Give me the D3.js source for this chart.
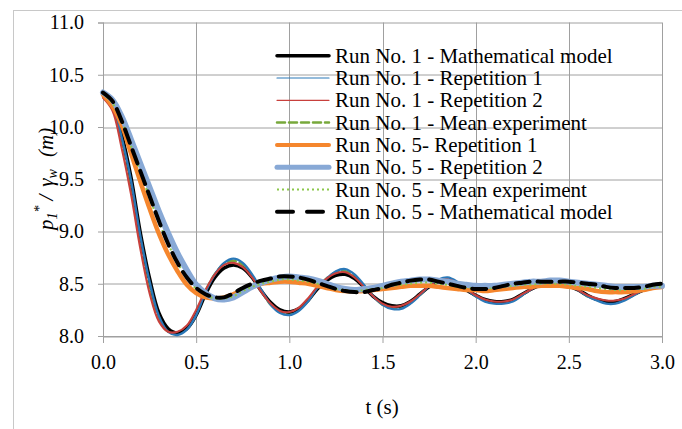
<!DOCTYPE html>
<html>
<head>
<meta charset="utf-8">
<script src="https://cdn.jsdelivr.net/npm/d3@7"></script>
<style>
  body { margin: 0; background: #fff; }
</style>
</head>
<body>
<div id="chart"></div>
<script>
// time stamps (s)
const times = [0.00,0.05,0.10,0.15,0.20,0.25,0.30,0.35,0.40,0.45,0.50,0.55,0.60,0.65,0.70,0.75,0.80,0.85,0.90,0.95,
  1.00,1.05,1.10,1.15,1.20,1.25,1.30,1.35,1.40,1.45,1.50,1.55,1.60,1.65,1.70,1.75,1.80,1.85,1.90,1.95,
  2.00,2.05,2.10,2.15,2.20,2.25,2.30,2.35,2.40,2.45,2.50,2.55,2.60,2.65,2.70,2.75,2.80,2.85,2.90,2.95,3.00];

// run 1
const run1Model = [10.33,10.24,9.93,9.52,8.99,8.55,8.22,8.07,8.03,8.07,8.20,8.40,8.56,8.65,8.68,8.65,8.56,8.43,8.32,8.25,
  8.23,8.26,8.34,8.45,8.53,8.58,8.59,8.55,8.47,8.38,8.32,8.29,8.29,8.33,8.40,8.47,8.52,8.53,8.50,8.44,
  8.39,8.35,8.33,8.33,8.35,8.40,8.45,8.49,8.51,8.51,8.48,8.44,8.39,8.35,8.33,8.33,8.36,8.40,8.44,8.47,8.49];
const run1Rep1 = [10.32,10.22,9.90,9.49,8.96,8.52,8.19,8.04,8.01,8.06,8.20,8.42,8.59,8.70,8.74,8.70,8.59,8.44,8.30,8.22,
  8.20,8.24,8.33,8.46,8.55,8.62,8.64,8.59,8.49,8.38,8.30,8.26,8.26,8.31,8.39,8.48,8.54,8.56,8.52,8.45,
  8.38,8.33,8.31,8.31,8.33,8.39,8.45,8.50,8.53,8.53,8.49,8.44,8.38,8.34,8.31,8.31,8.34,8.39,8.44,8.47,8.49];
const run1Rep2 = [10.28,10.16,9.80,9.36,8.84,8.41,8.14,8.04,8.04,8.10,8.25,8.44,8.59,8.68,8.70,8.66,8.56,8.42,8.31,8.24,
  8.23,8.27,8.36,8.47,8.55,8.60,8.61,8.56,8.47,8.38,8.31,8.28,8.29,8.33,8.40,8.48,8.53,8.54,8.51,8.45,
  8.39,8.35,8.33,8.33,8.35,8.40,8.45,8.49,8.51,8.51,8.48,8.44,8.39,8.36,8.34,8.34,8.36,8.40,8.44,8.47,8.48];
const run1Mean = [10.30,10.19,9.85,9.42,8.90,8.46,8.16,8.04,8.02,8.08,8.22,8.43,8.59,8.69,8.72,8.68,8.57,8.43,8.30,8.23,
  8.21,8.25,8.34,8.46,8.55,8.61,8.62,8.57,8.48,8.38,8.30,8.27,8.27,8.32,8.39,8.48,8.53,8.55,8.51,8.45,
  8.38,8.34,8.32,8.32,8.34,8.39,8.45,8.49,8.52,8.52,8.48,8.44,8.38,8.35,8.32,8.32,8.35,8.39,8.44,8.47,8.48];

// run 5
const run5Rep1 = [10.31,10.20,10.02,9.75,9.48,9.22,8.98,8.78,8.62,8.49,8.41,8.37,8.36,8.37,8.40,8.44,8.47,8.50,8.51,8.52,
  8.52,8.51,8.50,8.48,8.46,8.44,8.43,8.43,8.43,8.44,8.45,8.46,8.47,8.48,8.48,8.48,8.47,8.46,8.45,8.44,
  8.44,8.43,8.44,8.45,8.46,8.47,8.47,8.48,8.48,8.48,8.47,8.46,8.45,8.43,8.42,8.42,8.42,8.43,8.44,8.46,8.47];
const run5Rep2 = [10.33,10.26,10.10,9.88,9.65,9.42,9.19,8.98,8.79,8.63,8.49,8.41,8.36,8.35,8.37,8.42,8.47,8.51,8.54,8.56,
  8.57,8.56,8.55,8.53,8.50,8.47,8.45,8.44,8.45,8.46,8.48,8.50,8.52,8.53,8.54,8.54,8.53,8.52,8.50,8.49,
  8.48,8.48,8.48,8.49,8.50,8.51,8.52,8.52,8.53,8.53,8.52,8.51,8.50,8.49,8.48,8.47,8.47,8.47,8.47,8.48,8.48];
const run5Mean = [10.32,10.23,10.06,9.82,9.57,9.32,9.09,8.88,8.70,8.56,8.45,8.39,8.36,8.36,8.38,8.43,8.47,8.50,8.52,8.54,
  8.54,8.53,8.52,8.50,8.48,8.45,8.44,8.43,8.44,8.45,8.46,8.48,8.49,8.50,8.51,8.51,8.50,8.49,8.47,8.46,
  8.46,8.45,8.46,8.47,8.48,8.49,8.49,8.50,8.50,8.50,8.49,8.48,8.47,8.46,8.45,8.44,8.44,8.45,8.45,8.47,8.47];
const run5Model = [10.33,10.25,10.06,9.82,9.58,9.34,9.10,8.88,8.70,8.56,8.46,8.40,8.37,8.37,8.41,8.46,8.50,8.53,8.55,8.57,
  8.57,8.56,8.54,8.51,8.48,8.45,8.43,8.42,8.42,8.44,8.46,8.49,8.51,8.53,8.54,8.54,8.52,8.50,8.48,8.46,
  8.45,8.45,8.46,8.48,8.50,8.51,8.52,8.52,8.52,8.52,8.52,8.51,8.50,8.49,8.47,8.46,8.46,8.46,8.47,8.49,8.50];

const xTicks = [0, 0.5, 1.0, 1.5, 2.0, 2.5, 3.0];
const yTicks = [8.0, 8.5, 9.0, 9.5, 10.0, 10.5, 11.0];

// legend order; "z" is the drawing order in the plot
const series = [
  {name: "Run No. 1 - Mathematical model", values: run1Model, color: "#000000", width: 3.5, z: 1},
  {name: "Run No. 1 - Repetition 1", values: run1Rep1, color: "#2a78b8", width: 2.4, legendWidth: 1.2, z: 2},
  {name: "Run No. 1 - Repetition 2", values: run1Rep2, color: "#c8403c", width: 2.1, legendWidth: 1.2, z: 3},
  {name: "Run No. 1 - Mean experiment", values: run1Mean, color: "#77a83b", width: 2.5, dash: "8,4", z: 0},
  {name: "Run No. 5- Repetition 1", values: run5Rep1, color: "#f5862d", width: 4.5, legendWidth: 4, z: 4},
  {name: "Run No. 5 - Repetition 2", values: run5Rep2, color: "#88a9d6", width: 6, legendWidth: 5, z: 5},
  {name: "Run No. 5 - Mean experiment", values: run5Mean, color: "#8cc84b", width: 2, dash: "2,3", dotted: true, z: 6},
  {name: "Run No. 5 - Mathematical model", values: run5Model, color: "#000000", width: 4, dash: "14,8", legendDash: "16,14", z: 7}
];

const font = "'Liberation Serif', 'DejaVu Serif', serif";

const margin = {top: 22.5, left: 103};
const width = 559, height = 313.5;

const svg = d3.select("#chart").append("svg")
    .attr("width", 682)
    .attr("height", 429)
    .style("font-family", font);

// chart area border
svg.append("rect")
    .attr("x", 13.5).attr("y", 10.5)
    .attr("width", 720).attr("height", 460)
    .attr("fill", "none")
    .attr("stroke", "#c8c8c8");

const g = svg.append("g").attr("transform", `translate(${margin.left},${margin.top})`);

const x = d3.scaleLinear().domain([0, 3]).range([0, width]);
const y = d3.scaleLinear().domain([8, 11]).range([height, 0]);

const gridColor = "#a0a0a0";

// grid
g.append("g").selectAll("line").data(yTicks).enter().append("line")
    .attr("x1", 0).attr("x2", width)
    .attr("y1", d => Math.round(y(d)) + 0.5).attr("y2", d => Math.round(y(d)) + 0.5)
    .attr("stroke", gridColor);
g.append("g").selectAll("line").data(xTicks).enter().append("line")
    .attr("y1", 0).attr("y2", height)
    .attr("x1", d => Math.round(x(d)) + 0.5).attr("x2", d => Math.round(x(d)) + 0.5)
    .attr("stroke", gridColor);

// axes
const yAxis = g.append("g")
    .call(d3.axisLeft(y).tickValues(yTicks).tickSize(5).tickPadding(14).tickFormat(d3.format(".1f")));
const xAxis = g.append("g")
    .attr("transform", `translate(0,${height})`)
    .call(d3.axisBottom(x).tickValues(xTicks).tickSize(7).tickPadding(12).tickFormat(d3.format(".1f")));

[xAxis, yAxis].forEach(a => {
  a.attr("font-family", null).attr("font-size", null);
  a.selectAll("path, line").attr("stroke", gridColor);
  a.selectAll("text").attr("fill", "#000").style("font-size", "20px");
});

// lines
const line = d3.line()
    .x((d, i) => x(times[i]))
    .y(d => y(d))
    .curve(d3.curveCatmullRom);

series.slice().sort((a, b) => a.z - b.z).forEach(s => {
  g.append("path")
      .datum(s.values)
      .attr("d", line)
      .attr("fill", "none")
      .attr("stroke", s.color)
      .attr("stroke-width", s.width)
      .attr("stroke-dasharray", s.dash || null)
      .attr("stroke-linecap", s.dotted ? "butt" : "round")
      .attr("stroke-linejoin", "round");
});

// legend
const legend = svg.append("g").attr("transform", "translate(277,55.7)");
series.forEach((s, i) => {
  const row = legend.append("g").attr("transform", `translate(0,${i * 22.3})`);
  row.append("line")
      .attr("x1", 0).attr("x2", 52).attr("y1", 0).attr("y2", 0)
      .attr("stroke", s.color)
      .attr("stroke-width", s.legendWidth || s.width)
      .attr("stroke-dasharray", s.legendDash || s.dash || null)
      .attr("stroke-linecap", s.dotted ? "butt" : "round");
  row.append("text")
      .attr("x", 58).attr("y", 7)
      .style("font-size", "21px")
      .text(s.name);
});

// axis titles
svg.append("text")
    .attr("x", 382).attr("y", 414)
    .attr("text-anchor", "middle")
    .style("font-size", "21px")
    .text("t (s)");

const yTitle = svg.append("text")
    .attr("transform", "translate(53,230) rotate(-90)")
    .style("font-size", "21px")
    .style("font-style", "italic");
yTitle.append("tspan").text("p");
yTitle.append("tspan").attr("dy", 4).style("font-size", "14px").text("1");
yTitle.append("tspan").attr("dy", -13).style("font-size", "14px").text("*");
yTitle.append("tspan").attr("dy", 9).attr("dx", 5).text("/");
yTitle.append("tspan").attr("dx", 8).text("γ");
yTitle.append("tspan").attr("dy", 4).style("font-size", "14px").text("w");
yTitle.append("tspan").attr("dy", -4).attr("dx", 12).text("(m)");
</script>
</body>
</html>
